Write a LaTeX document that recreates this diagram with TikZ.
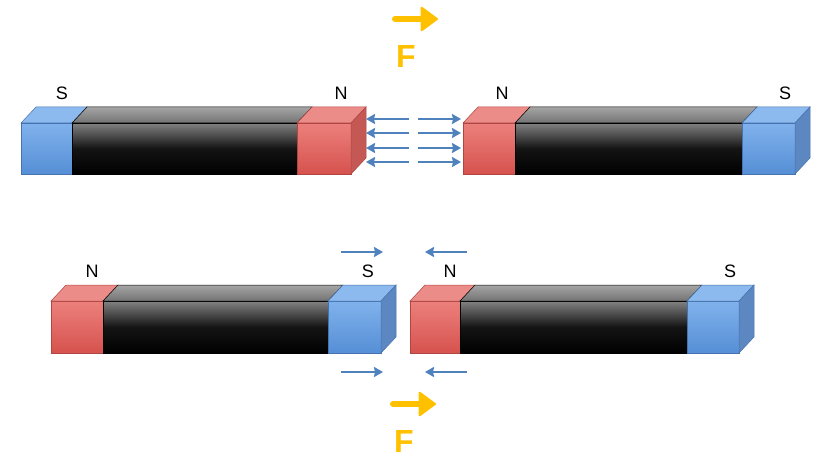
\documentclass[tikz,border=0pt]{standalone}
\usepackage{fontspec}
\setmainfont{Liberation Sans}
\usetikzlibrary{arrows.meta,calc}
\definecolor{fieldblue}{HTML}{4F81BD}
\definecolor{forcegold}{HTML}{FFC000}
\tikzset{
  bluefront/.style={top color={rgb,255:red,128;green,178;blue,236}, bottom color={rgb,255:red,86;green,143;blue,214}, draw={rgb,255:red,70;green,115;blue,175}, line width=0.5pt},
  bluetop/.style={fill={rgb,255:red,140;green,186;blue,238}, draw={rgb,255:red,70;green,115;blue,175}, line width=0.5pt},
  blueside/.style={fill={rgb,255:red,92;green,135;blue,192}, draw={rgb,255:red,70;green,115;blue,175}, line width=0.5pt},
  redfront/.style={top color={rgb,255:red,236;green,128;blue,124}, bottom color={rgb,255:red,214;green,82;blue,78}, draw={rgb,255:red,175;green,70;blue,66}, line width=0.5pt},
  redtop/.style={fill={rgb,255:red,236;green,140;blue,136}, draw={rgb,255:red,175;green,70;blue,66}, line width=0.5pt},
  redside/.style={fill={rgb,255:red,196;green,88;blue,84}, draw={rgb,255:red,175;green,70;blue,66}, line width=0.5pt},
  barfront/.style={top color={rgb,255:red,130;green,130;blue,130}, bottom color=black, middle color={rgb,255:red,20;green,20;blue,20}, draw=black, line width=0.5pt},
  bartop/.style={top color={rgb,255:red,165;green,165;blue,165}, bottom color={rgb,255:red,115;green,115;blue,115}, draw=black, line width=0.5pt},
  pole/.style={font=\fontsize{18}{18}\selectfont, inner sep=0pt},
  fieldarrow/.style={draw=fieldblue, line width=2.8pt, -{Stealth[length=9pt,width=10pt,inset=1pt]}},
  forcearrow/.style={draw=forcegold, line width=6pt, line cap=round, -{Triangle[length=18pt 0 0,width=26pt 0 0,line join=round,line width=2pt]}},
  forcelabel/.style={text=forcegold, font=\bfseries\fontsize{32}{32}\selectfont, inner sep=0pt},
}
% bar magnet: #1..#4 = x of left end, pole/body joints, right end; #5,#6 = top/bottom of front;
% #7, #8 = colour prefix of left and right pole
\newcommand\barmagnet[8]{%
  \path[#7front] (#1,#5) rectangle (#2,#6);
  \path[barfront] (#2,#5) rectangle (#3,#6);
  \path[#8front] (#3,#5) rectangle (#4,#6);
  \path[#7top] (#1,#5) -- ++(15,-16) -- ($(#2,#5)+(15,-16)$) -- (#2,#5) -- cycle;
  \path[bartop] (#2,#5) -- ++(15,-16) -- ($(#3,#5)+(15,-16)$) -- (#3,#5) -- cycle;
  \path[#8top] (#3,#5) -- ++(15,-16) -- ($(#4,#5)+(15,-16)$) -- (#4,#5) -- cycle;
  \path[#8side] (#4,#5) -- ++(15,-16) -- ($(#4,#6)+(15,-16)$) -- (#4,#6) -- cycle;
}
\begin{document}
\begin{tikzpicture}[x=1pt,y=-1pt]
\useasboundingbox (0,0) rectangle (815,460);

% upper pair: like poles facing each other
\barmagnet{21}{72}{297}{351}{123}{174}{blue}{red}
\barmagnet{463}{515}{742}{795}{123}{174}{red}{blue}
\node[pole] (s1) at (62,93) {S};
\node[pole] (n1) at (341,93) {N};
\node[pole] (n2) at (502,93) {N};
\node[pole] (s2) at (785,93) {S};

\foreach \yy [count=\i] in {119,133,148,162} {
  \coordinate (la\i) at (409,\yy); \coordinate (lb\i) at (366,\yy);
  \coordinate (ra\i) at (418,\yy); \coordinate (rb\i) at (461,\yy);
  \draw[fieldarrow] (la\i) -- (lb\i);
  \draw[fieldarrow] (ra\i) -- (rb\i);
}

\coordinate (fa1) at (395,19); \coordinate (fb1) at (438,19);
\draw[forcearrow] (fa1) -- (fb1);
\node[forcelabel] (f1) at (406,56) {F};

% lower pair: unlike poles facing each other
\barmagnet{51}{103}{328}{381}{301}{353}{red}{blue}
\barmagnet{410}{460}{687}{739}{301}{353}{red}{blue}
\node[pole] (n3) at (92,271) {N};
\node[pole] (s3) at (368,271) {S};
\node[pole] (n4) at (450,271) {N};
\node[pole] (s4) at (730,271) {S};

\coordinate (ta1) at (341,252); \coordinate (tb1) at (383,252);
\coordinate (ta2) at (467,252); \coordinate (tb2) at (425,252);
\coordinate (ua1) at (341,372); \coordinate (ub1) at (383,372);
\coordinate (ua2) at (467,372); \coordinate (ub2) at (425,372);
\draw[fieldarrow] (ta1) -- (tb1);
\draw[fieldarrow] (ta2) -- (tb2);
\draw[fieldarrow] (ua1) -- (ub1);
\draw[fieldarrow] (ua2) -- (ub2);

\coordinate (fa2) at (393,404); \coordinate (fb2) at (436,404);
\draw[forcearrow] (fa2) -- (fb2);
\node[forcelabel] (f2) at (404,441) {F};
\end{tikzpicture}
\end{document}
